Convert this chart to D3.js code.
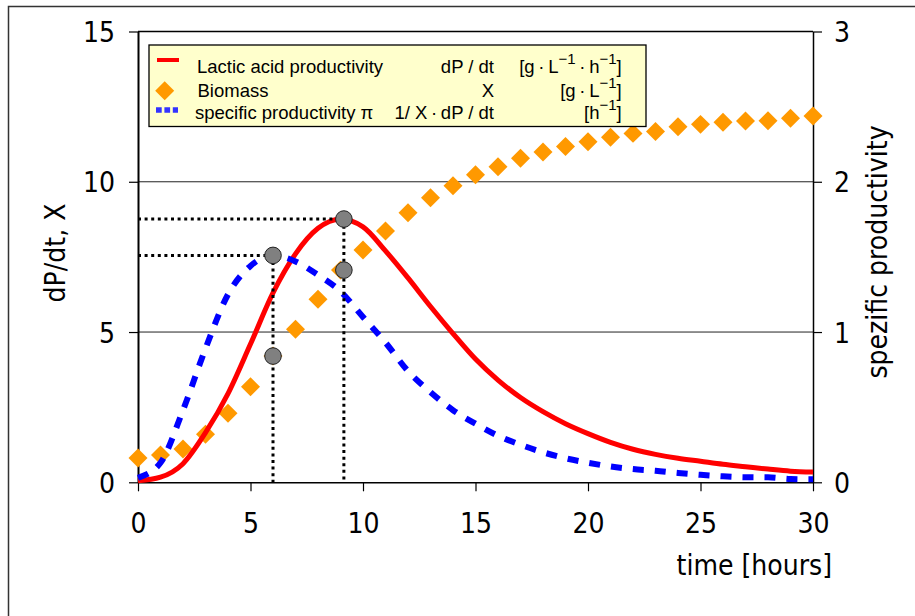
<!DOCTYPE html>
<html>
<head>
<meta charset="utf-8">
<script src="https://cdn.jsdelivr.net/npm/d3@7"></script>
<style>
  html, body { margin: 0; padding: 0; background: #fff; }
  svg { display: block; }
  .ax { font-family: "DejaVu Sans Condensed", "DejaVu Sans", sans-serif; font-stretch: condensed; font-size: 28px; fill: #000; }
  .lg { font-family: "Liberation Sans", Arial, sans-serif; font-size: 18.5px; fill: #000; }
</style>
</head>
<body>
<svg id="chart" width="915" height="616"></svg>
<script>
// Fermentation time, hours
const hours = d3.range(0, 31);

// Lactic acid productivity dP/dt [g·L^-1·h^-1] (left axis)
const productivity = [0.05, 0.17, 0.62, 1.65, 2.95, 4.6, 6.3, 7.6, 8.45, 8.75,
  8.5, 7.7, 6.8, 5.85, 4.95, 4.1, 3.4, 2.82, 2.35, 1.95,
  1.62, 1.33, 1.1, 0.93, 0.8, 0.7, 0.6, 0.52, 0.44, 0.37, 0.34];

// Biomass X [g·L^-1] (left axis)
const biomass = [0.81, 0.91, 1.11, 1.6, 2.3, 3.18, 4.2, 5.09, 6.09, 7.06,
  7.73, 8.36, 8.97, 9.47, 9.87, 10.23, 10.5, 10.78, 10.99, 11.17,
  11.33, 11.48, 11.61, 11.67, 11.83, 11.91, 11.98, 12.02, 12.03, 12.11, 12.19];

// Specific productivity pi = 1/X · dP/dt [h^-1] (right axis)
const specific = [0.03, 0.13, 0.48, 0.89, 1.25, 1.44, 1.51, 1.47, 1.38, 1.27,
  1.1, 0.93, 0.74, 0.6, 0.48, 0.39, 0.31, 0.25, 0.2, 0.16,
  0.13, 0.105, 0.088, 0.077, 0.062, 0.05, 0.04, 0.034, 0.033, 0.022, 0.02];

// Highlighted maxima: peak of pi and peak of dP/dt, with the biomass at that time
const piPeak = { t: 6, pi: 1.51, biomass: 4.2 };
const ratePeak = { t: 9.15, rate: 8.76, biomass: 7.06 };

// Tick values
const xTicks = [0, 5, 10, 15, 20, 25, 30];
const leftTicks = [0, 5, 10, 15];
const rightTicks = [0, 1, 2, 3];

const svg = d3.select("#chart");

// outer frame
svg.append("rect").attr("x", 8.5).attr("y", 6.5).attr("width", 1000).attr("height", 1000)
  .attr("fill", "none").attr("stroke", "#333").attr("stroke-width", 1.5);

const x = d3.scaleLinear().domain([0, 30]).range([138, 813]);
const yL = d3.scaleLinear().domain([0, 15]).range([482.3, 31.5]);
const yR = d3.scaleLinear().domain([0, 3]).range([482.3, 31.5]);

// horizontal gridlines
svg.append("g").selectAll("line").data(leftTicks.slice(1)).join("line")
  .attr("x1", x(0)).attr("x2", x(30))
  .attr("y1", d => yL(d)).attr("y2", d => yL(d))
  .attr("stroke", "#222").attr("stroke-width", 1);

// axes
const gx = svg.append("g").attr("transform", `translate(0,${yL(0)})`)
  .call(d3.axisBottom(x).tickValues(xTicks).tickFormat(d3.format("d")).tickSize(9).tickSizeOuter(0));
gx.selectAll("text").attr("class", "ax").attr("font-size", null).attr("font-family", null)
  .attr("y", 51).attr("dy", null);

const gl = svg.append("g").attr("transform", `translate(${x(0)},0)`)
  .call(d3.axisLeft(yL).tickValues(leftTicks).tickFormat(d3.format("d")).tickSize(9).tickPadding(14).tickSizeOuter(0));
gl.selectAll("text").attr("class", "ax").attr("font-size", null).attr("font-family", null)
  .attr("dy", "0.36em");

const gr = svg.append("g").attr("transform", `translate(${x(30)},0)`)
  .call(d3.axisRight(yR).tickValues(rightTicks).tickFormat(d3.format("d")).tickSize(9).tickPadding(12).tickSizeOuter(0));
gr.selectAll("text").attr("class", "ax").attr("font-size", null).attr("font-family", null)
  .attr("dy", "0.36em");

[gx, gl, gr].forEach(g => {
  g.select(".domain").attr("stroke", "#000").attr("stroke-width", 1.5);
  g.selectAll(".tick line").attr("stroke", "#000").attr("stroke-width", 1.2);
});
gl.select(".domain").attr("stroke-width", 2);

// top frame of plot area
svg.append("line").attr("x1", x(0)).attr("x2", x(30)).attr("y1", yL(15)).attr("y2", yL(15))
  .attr("stroke", "#000").attr("stroke-width", 1.5);

// axis titles
svg.append("text").attr("class", "ax").attr("text-anchor", "middle")
  .attr("transform", "translate(65,253) rotate(-90)").text("dP/dt, X");
svg.append("text").attr("class", "ax").attr("text-anchor", "middle")
  .attr("transform", "translate(887,252) rotate(-90)").text("spezific productivity");
svg.append("text").attr("class", "ax").attr("text-anchor", "end")
  .attr("x", 832).attr("y", 575).text("time [hours]");

// biomass diamonds
const diamond = d3.symbol().type(d3.symbolSquare).size(180);
svg.append("g").selectAll("path").data(hours).join("path")
  .attr("d", diamond)
  .attr("transform", d => `translate(${x(d)},${yL(biomass[d])}) rotate(45)`)
  .attr("fill", "#FF9900");

// lactic acid productivity
svg.append("path").datum(hours)
  .attr("d", d3.line().x(d => x(d)).y(d => yL(productivity[d])).curve(d3.curveMonotoneX))
  .attr("fill", "none").attr("stroke", "#FF0000").attr("stroke-width", 5)
  .attr("stroke-linejoin", "round");

// specific productivity
svg.append("path").datum(hours)
  .attr("d", d3.line().x(d => x(d)).y(d => yR(specific[d])).curve(d3.curveMonotoneX))
  .attr("fill", "none").attr("stroke", "#0000FF").attr("stroke-width", 6)
  .attr("stroke-dasharray", "11,11");

// guide lines to the maxima
const guides = svg.append("g").attr("stroke", "#000").attr("stroke-width", 3)
  .attr("stroke-dasharray", "3,3.6").attr("fill", "none");
guides.append("line").attr("x1", x(0)).attr("x2", x(piPeak.t))
  .attr("y1", yR(piPeak.pi)).attr("y2", yR(piPeak.pi));
guides.append("line").attr("x1", x(piPeak.t)).attr("x2", x(piPeak.t))
  .attr("y1", yR(piPeak.pi)).attr("y2", yL(0));
guides.append("line").attr("x1", x(0)).attr("x2", x(ratePeak.t))
  .attr("y1", yL(ratePeak.rate)).attr("y2", yL(ratePeak.rate));
guides.append("line").attr("x1", x(ratePeak.t)).attr("x2", x(ratePeak.t))
  .attr("y1", yL(ratePeak.rate)).attr("y2", yL(0));

// marker circles
const marks = [
  { t: piPeak.t, y: yR(piPeak.pi) },
  { t: piPeak.t, y: yL(piPeak.biomass) },
  { t: ratePeak.t, y: yL(ratePeak.rate) },
  { t: ratePeak.t, y: yL(ratePeak.biomass) }
];
svg.append("g").selectAll("circle").data(marks).join("circle")
  .attr("cx", d => x(d.t)).attr("cy", d => d.y).attr("r", 8.3)
  .attr("fill", "#808080").attr("stroke", "#222").attr("stroke-width", 1);

// legend
const lg = svg.append("g");
lg.append("rect").attr("x", 149).attr("y", 45).attr("width", 497).attr("height", 81.5)
  .attr("fill", "#FFFFCC").attr("stroke", "#000").attr("stroke-width", 1.3);
lg.append("line").attr("x1", 157).attr("x2", 179).attr("y1", 60).attr("y2", 60)
  .attr("stroke", "#FF0000").attr("stroke-width", 4);
lg.append("path").attr("d", diamond).attr("transform", "translate(164.7,90.7) rotate(45)")
  .attr("fill", "#FF9900");
lg.append("line").attr("x1", 156).attr("x2", 178).attr("y1", 110).attr("y2", 110)
  .attr("stroke", "#3333FF").attr("stroke-width", 5.5).attr("stroke-dasharray", "5.7,2.7");

const rows = [
  { name: "Lactic acid productivity", sym: "dP / dt", unit: [["[g\u2009·\u2009L", 0], ["\u22121", 1], ["\u2009·\u2009h", 0], ["\u22121", 1], ["]", 0]], y: 73, nx: 197 },
  { name: "Biomass", sym: "X", unit: [["[g\u2009·\u2009L", 0], ["\u22121", 1], ["]", 0]], y: 96.7, nx: 197.5 },
  { name: "specific productivity \u03c0", sym: "1/ X\u2009·\u2009dP / dt", unit: [["[h", 0], ["\u22121", 1], ["]", 0]], y: 118.5, nx: 195 }
];
rows.forEach(r => {
  lg.append("text").attr("class", "lg").attr("x", r.nx).attr("y", r.y).text(r.name);
  lg.append("text").attr("class", "lg").attr("x", 494).attr("y", r.y)
    .attr("text-anchor", "end").text(r.sym);
  const t = lg.append("text").attr("class", "lg").attr("x", 621.7).attr("y", r.y)
    .attr("text-anchor", "end");
  let offset = 0;
  r.unit.forEach(([s, sup]) => {
    const target = sup ? -9 : 0;
    t.append("tspan").attr("dy", target - offset).attr("font-size", sup ? "15px" : null).text(s);
    offset = target;
  });
});
</script>
</body>
</html>
